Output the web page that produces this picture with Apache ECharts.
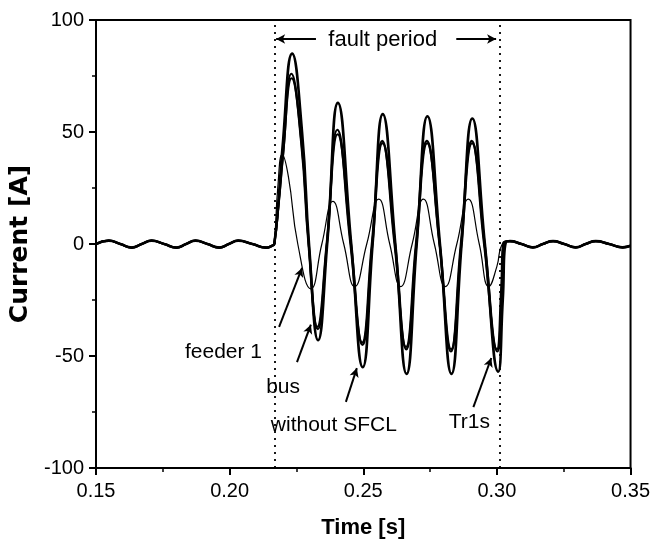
<!DOCTYPE html>
<html><head><meta charset="utf-8">
<script src="https://cdn.jsdelivr.net/npm/echarts@6/dist/echarts.min.js"></script>
<style>html,body{margin:0;padding:0;background:#fff}#c{width:653px;height:544px}</style>
</head><body><div id="c"></div>
<script>
// ---------- axis ticks ----------
const xTickValues = [0.15, 0.20, 0.25, 0.30, 0.35];
const xTickLabels = ['0.15', '0.20', '0.25', '0.30', '0.35'];
const yTickValues = [-100, -50, 0, 50, 100];
const yTickLabels = ['-100', '-50', '0', '50', '100'];

// ---------- fault period boundaries [s] ----------
const faultStart = 0.2167;
const faultEnd = 0.3012;

// ---------- shared pre-fault ripple ----------
const preT = [0.1500, 0.1548, 0.1591, 0.1634, 0.1671, 0.1708, 0.1755, 0.1802, 0.1837, 0.1872, 0.1917, 0.1962, 0.1997, 0.2032, 0.2085, 0.2137, 0.2160];
const preI = [0.0, 1.5, 0.0, -1.6, 0.0, 1.5, 0.0, -1.6, 0.0, 1.5, 0.0, -1.6, 0.0, 1.5, 0.0, -1.6, -0.7];

// ---------- shared post-fault ripple ----------
const postT = [0.3049, 0.3092, 0.3135, 0.3172, 0.3210, 0.3252, 0.3295, 0.3332, 0.3370, 0.3420, 0.3471, 0.3500];
const postI = [1.3, 0.0, -1.5, 0.0, 1.3, 0.0, -1.5, 0.0, 1.3, 0.0, -1.5, -0.8];

// ---------- fault segments ----------
const withoutT = [0.2167, 0.2182, 0.2197, 0.2234, 0.2271, 0.2297, 0.2331, 0.2365, 0.2405, 0.2455, 0.2498, 0.2535, 0.2573, 0.2620, 0.2662, 0.2700, 0.2740, 0.2787, 0.2830, 0.2868, 0.2908, 0.2955, 0.3005, 0.3022, 0.3034];
const withoutI = [0, 18, 42, 85, 50, 0, -43, 0, 63, 0, -55, 0, 58, 0, -58, 0, 57, 0, -58, 0, 56, 0, -57, -25, 1];

const busT = [0.2167, 0.2185, 0.2200, 0.2231, 0.2268, 0.2295, 0.2328, 0.2363, 0.2403, 0.2452, 0.2496, 0.2532, 0.2571, 0.2617, 0.2660, 0.2697, 0.2738, 0.2785, 0.2828, 0.2865, 0.2906, 0.2952, 0.3000, 0.3016, 0.3024];
const busI = [0, 20, 40, 76, 45, 0, -37, 0, 51, 0, -44, 0, 46, 0, -46, 0, 46, 0, -48, 0, 46, 0, -47, -20, 0.5];

const tr1sT = [0.2167, 0.2184, 0.2199, 0.2232, 0.2270, 0.2296, 0.2330, 0.2364, 0.2404, 0.2454, 0.2497, 0.2534, 0.2572, 0.2619, 0.2661, 0.2699, 0.2739, 0.2786, 0.2829, 0.2867, 0.2907, 0.2954, 0.3002, 0.3018, 0.3028];
const tr1sI = [0, 19, 39, 74, 44, 0, -38, 0, 49, 0, -45, 0, 45, 0, -47, 0, 45, 0, -47, 0, 45, 0, -48, -22, 0.8];

const feederT = [0.2167, 0.2180, 0.2197, 0.2220, 0.2255, 0.2304, 0.2345, 0.2386, 0.2427, 0.2468, 0.2513, 0.2558, 0.2599, 0.2640, 0.2683, 0.2725, 0.2766, 0.2807, 0.2850, 0.2893, 0.2934, 0.2970, 0.3000, 0.3020];
const feederI = [0, 25, 40, 30, 0, -20, 0, 19, 0, -19, 0, 20, 0, -19, 0, 20, 0, -19, 0, 20, 0, -19, -10, 0];

// ---------- helpers ----------
function pairs(t, v) { return t.map((x, i) => [x, v[i]]); }
function fullWave(t, v) { return pairs(preT, preI).concat(pairs(t, v), pairs(postT, postI)); }

const FONT = 'Liberation Sans';
const black = '#000';

function waveSeries(name, t, v, width) {
  return {
    name: name, type: 'line', data: fullWave(t, v), smooth: 0.5,
    showSymbol: false, symbol: 'none',
    lineStyle: { color: black, width: width }, z: 3
  };
}

// annotations (data coordinates)
const labelTexts = ['feeder 1', 'bus', 'without SFCL', 'Tr1s', 'fault period'];
const labelAt = [[0.1977, -48.2], [0.2200, -63.8], [0.2390, -80.8], [0.2897, -79.5], [0.2573, 91.0]];
const arrowFrom = [[0.2185, -37], [0.2252, -52.7], [0.2435, -70.5], [0.2912, -72.8], [0.2323, 91.5], [0.2848, 91.5]];
const arrowTo = [[0.2271, -10.7], [0.2304, -36], [0.2476, -55.4], [0.2979, -50.9], [0.2174, 91.5], [0.2997, 91.5]];

const chart = echarts.init(document.getElementById('c'), null, { renderer: 'canvas' });

const option = {
  animation: false,
  backgroundColor: '#fff',
  grid: { left: 96, right: 20, top: 20, bottom: 76, show: true, borderColor: black, borderWidth: 2, backgroundColor: 'transparent' },
  xAxis: {
    type: 'value', min: 0.15, max: 0.35, interval: 0.05,
    axisLine: { onZero: false, lineStyle: { color: black, width: 2 } },
    axisTick: { length: 7, lineStyle: { color: black, width: 2 } },
    minorTick: { show: true, splitNumber: 2, length: 4, lineStyle: { color: black, width: 1.5 } },
    splitLine: { show: false },
    axisLabel: {
      color: black, fontFamily: FONT, fontSize: 20, margin: 13,
      formatter: v => { const i = xTickValues.findIndex(x => Math.abs(x - v) < 1e-6); return i >= 0 ? xTickLabels[i] : ''; }
    },
    name: 'Time [s]', nameLocation: 'middle', nameGap: 49,
    nameTextStyle: { color: black, fontFamily: FONT, fontWeight: 'bold', fontSize: 22 }
  },
  yAxis: {
    type: 'value', min: -100, max: 100, interval: 50,
    axisLine: { onZero: false, lineStyle: { color: black, width: 2 } },
    axisTick: { length: 7, lineStyle: { color: black, width: 2 } },
    minorTick: { show: true, splitNumber: 2, length: 4, lineStyle: { color: black, width: 1.5 } },
    splitLine: { show: false },
    axisLabel: {
      color: black, fontFamily: FONT, fontSize: 20, margin: 12,
      formatter: v => { const i = yTickValues.findIndex(x => Math.abs(x - v) < 1e-6); return i >= 0 ? yTickLabels[i] : ''; }
    },
    name: 'Current [A]', nameLocation: 'middle', nameGap: 60, nameRotate: 90,
    nameTextStyle: { color: black, fontFamily: 'DejaVu Sans', fontWeight: 'bold', fontSize: 25 }
  },
  series: [
    Object.assign(waveSeries('feeder 1', feederT, feederI, 1.2), {
      markLine: {
        silent: true, symbol: 'none', precision: 5, label: { show: false },
        lineStyle: { color: black, type: [2, 5], width: 1.8 },
        data: [{ xAxis: faultStart }, { xAxis: faultEnd }]
      }
    }),
    waveSeries('Tr1s', tr1sT, tr1sI, 2.2),
    waveSeries('bus', busT, busI, 2.2),
    Object.assign(waveSeries('without SFCL', withoutT, withoutI, 2.6), {
      markLine: {
        silent: true, symbol: ['none', 'arrow'], symbolSize: [7, 9], precision: 5, label: { show: false },
        lineStyle: { color: black, type: 'solid', width: 2 },
        data: arrowFrom.map((p, i) => [{ coord: p }, { coord: arrowTo[i] }])
      }
    })
  ]
};
chart.setOption(option);

const graphics = labelTexts.map((txt, i) => {
  const p = chart.convertToPixel({ gridIndex: 0 }, labelAt[i]);
  return {
    type: 'text', x: p[0], y: p[1], z: 10,
    style: { text: txt, fill: black, fontFamily: FONT, fontSize: txt === 'fault period' ? 22 : 21, align: 'center', verticalAlign: 'middle' }
  };
});
chart.setOption({ graphic: graphics });
</script>
</body></html>
